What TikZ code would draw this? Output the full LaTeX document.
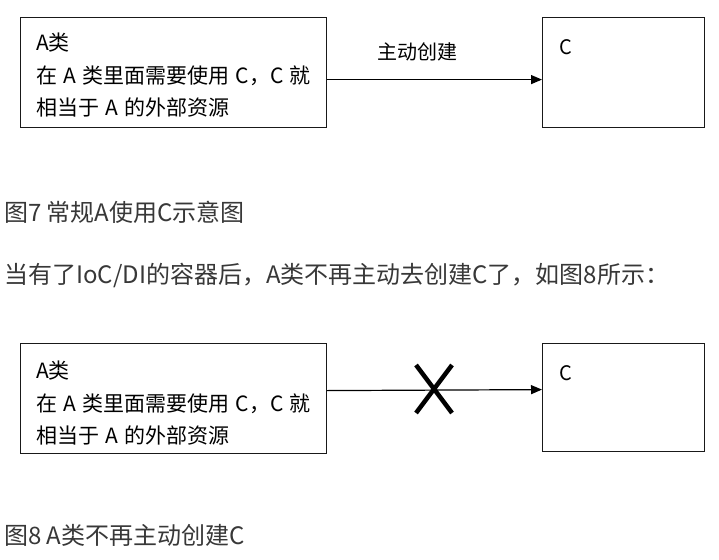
\documentclass[tikz,border=0pt]{standalone}
\usepackage{fontspec}
\setmainfont{Noto Sans CJK SC}
\usetikzlibrary{arrows.meta,positioning}

\newcommand{\boxfont}{\fontsize{21}{32.5}\selectfont\spaceskip=0.3em\relax}

\tikzset{
  box/.style={draw=black!90, line width=1.2pt, rectangle, anchor=north west, inner sep=0pt},
  boxtext/.style={anchor=north west, align=left, inner sep=0pt, font=\boxfont},
  lbltext/.style={inner sep=0pt, font=\fontsize{20}{22}\selectfont},
  caption/.style={anchor=west, inner sep=0pt, text=black!78, font=\fontsize{24}{26}\selectfont},
  link/.style={line width=1.2pt, -{Triangle[length=11pt,width=9pt]}},
}

\begin{document}
\begin{tikzpicture}[x=1pt, y=-1pt]
    \useasboundingbox[fill=white] (0,0) rectangle (719,559);

    % figure 7: A creates C itself
    \node[box, minimum width=306pt, minimum height=110pt] (a1) at (20,17) {};
    \node[boxtext] (a1text) at (36,33) {A类\\在 A 类里面需要使用 C，C 就\\相当于 A 的外部资源};
    \node[box, minimum width=162pt, minimum height=110pt] (c1) at (542,17) {};
    \node[lbltext, anchor=west] (c1text) at (559,47) {C};

    \draw[link] ([yshift=-7pt]a1.east) -- ([yshift=-7pt]c1.west);
    \node[lbltext] (create) at (417,52) {主动创建};

    \node[caption] (cap7) at (4,212) {图7 常规A使用C示意图};
    \node[caption] (note) at (4,275) {当有了IoC/DI的容器后，A类不再主动去创建C了，如图8所示：};

    % figure 8: no more active creation
    \node[box, minimum width=306pt, minimum height=110pt] (a2) at (20,343) {};
    \node[boxtext] (a2text) at (36,361) {A类\\在 A 类里面需要使用 C，C 就\\相当于 A 的外部资源};
    \node[box, minimum width=162pt, minimum height=108pt] (c2) at (542,343) {};
    \node[lbltext, anchor=west] (c2text) at (559,373) {C};

    \draw[link] ([yshift=8pt]a2.east) -- ([yshift=8pt]c2.west);

    % the cross
    \coordinate (x0) at (434,389);
    \draw[line width=4.5pt] ([shift={(-18,-24)}]x0) -- ([shift={(18,24)}]x0);
    \draw[line width=4.5pt] ([shift={(18,-24)}]x0) -- ([shift={(-18,24)}]x0);

    \node[caption] (cap8) at (4,535) {图8 A类不再主动创建C};
\end{tikzpicture}
\end{document}
